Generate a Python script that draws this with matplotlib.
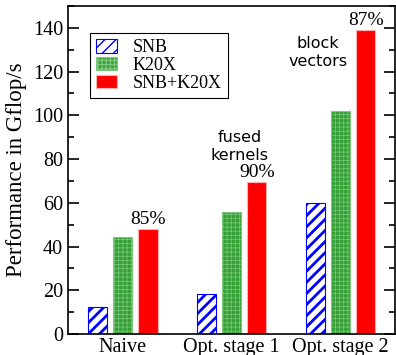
import numpy as np
import matplotlib.pyplot as plt
from matplotlib.ticker import MultipleLocator

stages = ['Naive', 'Opt. stage 1', 'Opt. stage 2']
snb = [12.5, 18.5, 60]
k20x = [44.5, 56, 102]
combined = [48, 69.5, 139]
efficiency = ['85%', '90%', '87%']

fig = plt.figure(figsize=(3.96, 3.55), dpi=100)
ax = fig.add_axes([68 / 396, 21 / 355, 327 / 396, 328 / 355])

x = np.arange(len(stages))
w = 0.175
step = 0.23

with plt.rc_context({'hatch.linewidth': 2.0}):
    ax.bar(x - step, snb, w, facecolor='white', edgecolor='blue', hatch='///',
           linewidth=0.8, label='SNB')
with plt.rc_context({'hatch.linewidth': 0.5}):
    ax.bar(x, k20x, w, facecolor='#35a035', edgecolor='#7cc87c', hatch='++++',
           linewidth=0.8, label='K20X')
ax.bar(x + step, combined, w, facecolor='#ff0000', edgecolor='#ffb0b0',
       linewidth=0.8, label='SNB+K20X')

for xi, v, t in zip(x + step, combined, efficiency):
    ax.text(xi, v + 0.3, t, ha='center', va='bottom', family='Liberation Serif',
            fontsize=14)

ax.text(1.07, 78, 'fused\nkernels', ha='center', va='bottom', fontsize=11.5,
        family='DejaVu Sans', linespacing=1.3)
ax.text(1.79, 121, 'block\nvectors', ha='center', va='bottom', fontsize=11.5,
        family='DejaVu Sans', linespacing=1.3)

ax.set_xlim(-0.505, 2.5)
ax.set_ylim(0, 150)
ax.set_xticks(x)
ax.set_xticklabels(stages, family='Liberation Serif', fontsize=14.5)
ax.yaxis.set_major_locator(MultipleLocator(20))
ax.yaxis.set_minor_locator(MultipleLocator(10))
ax.tick_params(axis='y', which='both', direction='in', right=True, width=1.2)
ax.tick_params(axis='y', which='major', length=8, labelsize=14.5)
ax.tick_params(axis='y', which='minor', length=4)
ax.tick_params(axis='x', length=0, pad=3)
for lab in ax.get_yticklabels():
    lab.set_family('Liberation Serif')
for s in ax.spines.values():
    s.set_linewidth(1.2)
ax.set_ylabel('Performance in Gflop/s', family='Liberation Serif', fontsize=16.5,
              labelpad=4)

leg = ax.legend(loc='upper left', bbox_to_anchor=(0.067, 0.918),
                prop={'family': 'Liberation Serif', 'size': 13},
                fancybox=False, edgecolor='black', framealpha=1,
                handlelength=1.15, handleheight=0.75, labelspacing=0.05,
                handletextpad=0.85, borderaxespad=0, borderpad=0.35)
leg.get_frame().set_linewidth(0.8)

fig.savefig('out.png', dpi=100)
